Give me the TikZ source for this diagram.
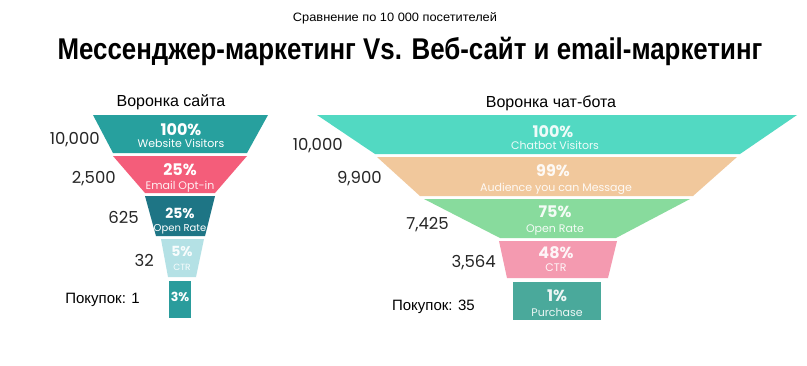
\documentclass[tikz,border=0pt]{standalone}
\usepackage{fontspec}
\usepackage{graphicx}
\setmainfont{Liberation Sans}
\newfontfamily\geo{Poppins}
\definecolor{lA}{HTML}{27A09E}
\definecolor{lB}{HTML}{F45D7A}
\definecolor{lC}{HTML}{1E7585}
\definecolor{lD}{HTML}{B4E1E5}
\definecolor{lE}{HTML}{2A9C9C}
\definecolor{rA}{HTML}{52D9C2}
\definecolor{rB}{HTML}{F1C89C}
\definecolor{rC}{HTML}{88DB9D}
\definecolor{rD}{HTML}{F49AB0}
\definecolor{rE}{HTML}{4AA99B}
\tikzset{
  pct/.style={anchor=base, inner sep=0pt, text=white, font=\geo\bfseries\fontsize{16}{19}\selectfont},
  sub/.style={anchor=base, inner sep=0pt, text=white, font=\geo\fontsize{11}{13}\selectfont},
  num/.style={anchor=base east, inner sep=0pt, text=black!85, font=\geo\fontsize{16.5}{19}\selectfont},
  buy/.style={anchor=base east, inner sep=0pt, font=\fontsize{15}{18}\selectfont},
  head/.style={anchor=base, inner sep=0pt, font=\fontsize{16}{19}\selectfont},
}
\begin{document}
\begin{tikzpicture}[x=1pt,y=-1pt]
\useasboundingbox[fill=white] (0,0) rectangle (807,365);
% titles
\node[anchor=base, inner sep=0pt, font=\fontsize{13.2}{15}\selectfont] (subt) at (395,21) {\scalebox{0.97}[0.92]{Сравнение по 10 000 посетителей}};
\node[anchor=base, inner sep=0pt, font=\bfseries\fontsize{30}{36}\selectfont] (title) at (410,59.5) {\scalebox{0.862}[1]{Мессенджер-маркетинг Vs. Веб-сайт и email-маркетинг}};
\node[head] (hl) at (171,106.7) {Воронка сайта};
\node[head] (hr) at (551,107.5) {Воронка чат-бота};
% left funnel
\fill[lA] (93,115) -- (268,115) -- (247,153) -- (113,153) -- cycle;
\fill[lB] (113,156) -- (247,156) -- (215,193) -- (145,193) -- cycle;
\fill[lC] (145,196) -- (215,196) -- (205,236) -- (156,236) -- cycle;
\fill[lD] (161,239) -- (204,239) -- (196,277) -- (168,277) -- cycle;
\fill[lE] (169,281) rectangle (191,318);
\node[pct] (l1p) at (181,135) {100\%};
\node[sub] (l1s) at (181,147.7) {Website Visitors};
\node[pct] (l2p) at (180,175.7) {25\%};
\node[sub, text opacity=0.9] (l2s) at (180,189) {Email Opt-in};
\node[pct, font=\geo\bfseries\fontsize{14}{16}\selectfont] (l3p) at (180,218.3) {25\%};
\node[sub, font=\geo\fontsize{10}{12}\selectfont] (l3s) at (180,231.7) {Open Rate};
\node[pct, font=\geo\bfseries\fontsize{14}{16}\selectfont, text opacity=0.9] (l4p) at (182,256) {5\%};
\node[sub, font=\geo\fontsize{9}{11}\selectfont, text opacity=0.9] (l4s) at (182,270) {CTR};
\node[pct, font=\geo\bfseries\fontsize{12.5}{14}\selectfont] (l5p) at (180,301.7) {3\%};
\node[num] (ln1) at (100,144.3) {10,000};
\node[num] (ln2) at (116,183.5) {2,500};
\node[num] (ln3) at (139,223.3) {625};
\node[num] (ln4) at (154,266) {32};
\node[buy] (lbuy) at (140,303.3) {Покупок: 1};
% right funnel
\fill[rA] (317,115) -- (797,115) -- (740,154) -- (375,154) -- cycle;
\fill[rB] (377,157) -- (737,157) -- (693,196) -- (420,196) -- cycle;
\fill[rC] (424,199) -- (690,199) -- (616,238) -- (500,238) -- cycle;
\fill[rD] (499,241) -- (617,241) -- (608,278) -- (507,278) -- cycle;
\fill[rE] (513,282) rectangle (601,320);
\node[pct, text opacity=0.9] (r1p) at (553,137.7) {100\%};
\node[sub, text opacity=0.9] (r1s) at (555,149.3) {Chatbot Visitors};
\node[pct, text opacity=0.9] (r2p) at (553,176.7) {99\%};
\node[sub, text opacity=0.9] (r2s) at (556,191) {Audience you can Message};
\node[pct, text opacity=0.9] (r3p) at (555,217.3) {75\%};
\node[sub, text opacity=0.9] (r3s) at (555,232) {Open Rate};
\node[pct, text opacity=0.9] (r4p) at (556,258) {48\%};
\node[sub, text opacity=0.9] (r4s) at (556,271) {CTR};
\node[pct, text opacity=0.9] (r5p) at (557,301) {1\%};
\node[sub, text opacity=0.9] (r5s) at (557,316.7) {Purchase};
\node[num] (rn1) at (343,150) {10,000};
\node[num] (rn2) at (382,183.3) {9,900};
\node[num] (rn3) at (449,229) {7,425};
\node[num] (rn4) at (496,267.7) {3,564};
\node[buy] (rbuy) at (475,310.7) {Покупок: 35};
\end{tikzpicture}
\end{document}
